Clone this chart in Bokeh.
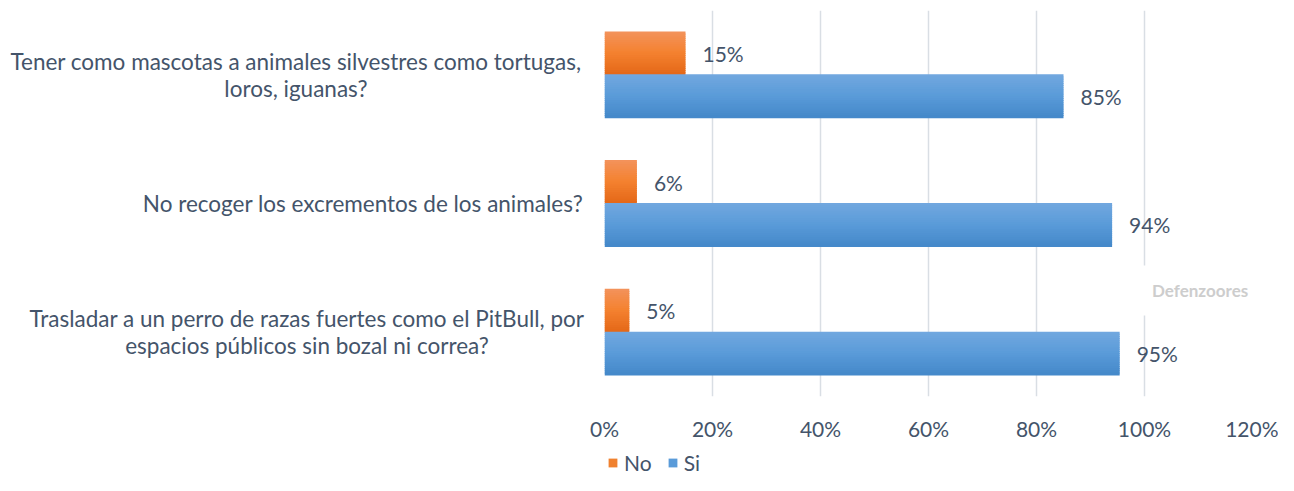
import numpy as np
from bokeh.plotting import figure
from bokeh.layouts import column, row
from bokeh.models import Range1d, NumeralTickFormatter, Legend, LegendItem, BoxAnnotation, FixedTicker, ColumnDataSource
from bokeh.core.properties import value
from bokeh.embed import file_html
from bokeh.resources import INLINE

# ---- data ----
categories = [
    "Tener como mascotas a animales silvestres como tortugas,\nloros, iguanas?",
    "No recoger los excrementos de los animales?",
    "Trasladar a un perro de razas fuertes como el PitBull, por\nespacios públicos sin bozal ni correa?",
]
no_values = [0.15, 0.06, 0.046]
si_values = [0.85, 0.94, 0.954]
series_names = ["No", "Si"]
x_ticks = [0, 0.2, 0.4, 0.6, 0.8, 1.0, 1.2]
watermark = "Defenzoores"

TEXT = "#44546A"
FONT = value("Lato")
FS = "21px"

TOTAL_W, TOTAL_H = 1278, 475
LABEL_W = 588
MAIN_H = 450
TOP, BOTTOM = 10, 54

yr = Range1d(-0.5, len(categories) - 0.5)

# ---- main plot ----
p = figure(width=TOTAL_W - LABEL_W, height=MAIN_H, output_backend="svg", toolbar_location=None,
           x_range=Range1d(0, 1.2), y_range=yr,
           min_border_left=16, min_border_right=26, min_border_top=TOP, min_border_bottom=BOTTOM)
p.outline_line_color = None
p.yaxis.visible = False
p.ygrid.grid_line_color = None
p.xgrid.grid_line_color = "#D9DEE4"
p.xgrid.grid_line_width = 1.5
p.xaxis.ticker = FixedTicker(ticks=x_ticks)
p.xaxis.formatter = NumeralTickFormatter(format="0%")
p.xaxis.axis_line_color = None
p.xaxis.major_tick_line_color = None
p.xaxis.minor_tick_line_color = None
p.xaxis.major_tick_out = 0
p.xaxis.major_label_standoff = 19
p.xaxis.major_label_text_font = "Lato"
p.xaxis.major_label_text_font_size = FS
p.xaxis.major_label_text_color = TEXT

# watermark white box
p.add_layout(BoxAnnotation(left=0.996, right=1.2, bottom=0.13, top=0.518,
                           fill_color="white", fill_alpha=1.0, line_color=None, level="underlay"))

ypos = [len(categories) - 1 - i for i in range(len(categories))]
bar_h = 1 / 3
N = 20

def hexc(c):
    return "#%02x%02x%02x" % tuple(int(round(v)) for v in c)

def grad(top, mid, bot, t):
    top, mid, bot = [np.array([int(c[i:i + 2], 16) for i in (1, 3, 5)], float) for c in (top, mid, bot)]
    if t < 0.5:
        return hexc(top + (mid - top) * (t / 0.5))
    return hexc(mid + (bot - mid) * ((t - 0.5) / 0.5))

series = [
    (no_values, +bar_h / 2, ("#F3935C", "#F4812F", "#E46818")),
    (si_values, -bar_h / 2, ("#72A8DF", "#5A9BD9", "#4488C9")),
]
for vals, off, (ct, cm, cb) in series:
    for k in range(N):
        t = (k + 0.5) / N
        ys = [y + off + bar_h / 2 - (k + 0.5) * bar_h / N for y in ypos]
        p.hbar(y=ys, left=0, right=vals, height=bar_h / N * 1.5,
               fill_color=grad(ct, cm, cb, t), line_color=None)
    p.text(x=vals, y=[y + off for y in ypos], text=[f"{round(v * 100)}%" for v in vals],
           x_offset=17, text_align="left", text_baseline="middle",
           text_font=FONT, text_font_size=FS, text_color=TEXT)

# watermark
p.text(x=[1.103], y=[0.324], text=[watermark], text_align="center", text_baseline="middle",
       text_font=FONT, text_font_size="17px", text_font_style="bold", text_color="#CDCDCD")

# ---- category label panel (shares y range) ----
lp = figure(width=LABEL_W, height=MAIN_H, output_backend="svg", toolbar_location=None,
            x_range=Range1d(0, LABEL_W), y_range=yr,
            min_border_left=0, min_border_right=0, min_border_top=TOP, min_border_bottom=BOTTOM)
lp.axis.visible = False
lp.grid.grid_line_color = None
lp.outline_line_color = None
label_centers = [295.5, 362.5, 306.5]
lp.text(x=label_centers, y=ypos, text=categories, text_align="center", text_baseline="middle",
        text_font=FONT, text_font_size="22.5px", text_color=TEXT, text_line_height=1.0)

# ---- legend strip ----
LEG_H = TOTAL_H - MAIN_H
lg = figure(width=TOTAL_W, height=LEG_H, output_backend="svg", toolbar_location=None,
            x_range=Range1d(0, TOTAL_W), y_range=Range1d(0, LEG_H),
            min_border_left=0, min_border_right=0, min_border_top=0, min_border_bottom=0)
lg.axis.visible = False
lg.grid.grid_line_color = None
lg.outline_line_color = None
hidden = ColumnDataSource(data=dict(y=[-10], right=[0]))
r_no = lg.hbar(y="y", right="right", height=1, source=hidden, fill_color="#F0812F", line_color=None)
r_si = lg.hbar(y="y", right="right", height=1, source=hidden, fill_color="#5A9BD9", line_color=None)
legend = Legend(items=[LegendItem(label=n, renderers=[r]) for n, r in zip(series_names, [r_no, r_si])],
                orientation="horizontal", location=(607, 0))
legend.glyph_width = 11
legend.glyph_height = 11
legend.label_height = LEG_H
legend.label_standoff = 6
legend.spacing = 15
legend.padding = 0
legend.margin = 0
legend.border_line_color = None
legend.background_fill_alpha = 0
legend.label_text_font = "Lato"
legend.label_text_font_size = FS
legend.label_text_color = TEXT
lg.add_layout(legend, "center")

layout = column(row(lp, p, spacing=0), lg, spacing=0)
open("out.html", "w").write(file_html(layout, INLINE))
